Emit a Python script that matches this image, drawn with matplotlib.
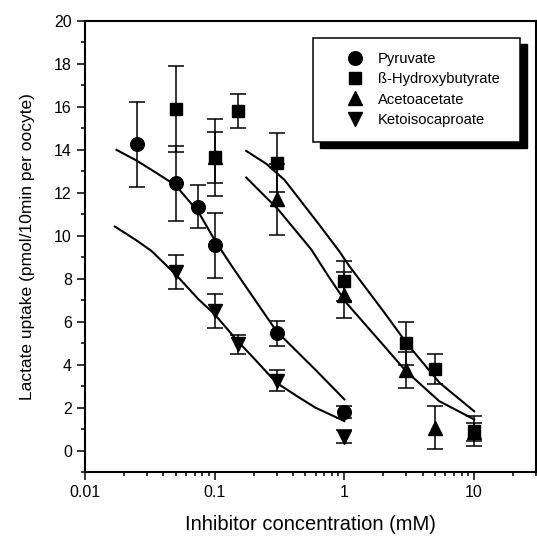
#Libraries
import numpy as np
import matplotlib
matplotlib.use('Agg')
import matplotlib.pyplot as plt
from matplotlib.lines import Line2D
from matplotlib.patches import Rectangle
from matplotlib.ticker import FixedLocator, LogLocator, MultipleLocator, NullFormatter

plt.rcParams['font.family']=['Liberation Sans','DejaVu Sans']

#Measured points (concentration in mM, uptake, error)
pyr_x=[0.025,0.05,0.075,0.1,0.3,1.0]
pyr_y=[14.25,12.45,11.35,9.55,5.45,1.8]
pyr_err=[2.0,1.75,1.0,1.5,0.6,0.28]

hb_x=[0.05,0.1,0.15,0.3,1.0,3.0,5.0,10.0]
hb_y=[15.9,13.65,15.8,13.4,7.9,5.0,3.8,0.9]
hb_err=[2.0,1.8,0.8,1.38,0.93,1.0,0.7,0.7]

aa_x=[0.1,0.3,1.0,3.0,5.0,10.0]
aa_y=[13.65,11.7,7.25,3.75,1.05,0.85]
aa_err=[1.2,1.65,1.07,0.85,1.0,0.42]

kic_x=[0.05,0.1,0.15,0.3,1.0]
kic_y=[8.3,6.5,4.95,3.25,0.65]
kic_err=[0.8,0.8,0.45,0.5,0.3]

#Fitted curves
pyr_fit_x=[0.0175,0.025,0.035,0.05,0.075,0.1,0.135,0.18,0.3,0.6,1.0]
pyr_fit_y=[14.0,13.5,12.95,12.35,11.1,9.8,8.6,7.5,5.55,3.75,2.38]

hb_fit_x=[0.175,0.25,0.345,0.62,0.91,1.09,2.0,3.0,5.4,10.0]
hb_fit_y=[13.95,13.35,12.6,10.62,9.29,8.59,6.48,5.02,3.16,1.83]

aa_fit_x=[0.175,0.307,0.554,0.75,1.03,2.0,2.98,5.38,10.0]
aa_fit_y=[12.71,11.24,9.37,8.13,6.89,4.9,3.7,2.3,1.45]

kic_fit_x=[0.017,0.025,0.0326,0.05,0.075,0.1,0.15,0.2,0.3,0.45,0.6,1.0]
kic_fit_y=[10.43,9.78,9.29,8.2,7.04,6.34,5.1,4.3,3.15,2.46,1.99,1.37]

labels=['Pyruvate','ß-Hydroxybutyrate','Acetoacetate','Ketoisocaproate']
markers=['o','s','^','v']
sizes=[9.8,8.4,10.5,10.5]

#Plot
fig=plt.figure(figsize=(5.37,5.36),dpi=100)
ax=fig.add_axes([85/537,1-472/536,451/537,451/536])

for fx,fy in [(pyr_fit_x,pyr_fit_y),(hb_fit_x,hb_fit_y),(aa_fit_x,aa_fit_y),(kic_fit_x,kic_fit_y)]:
    ax.plot(fx,fy,color='black',lw=1.5,zorder=2)

series=[(pyr_x,pyr_y,pyr_err),(hb_x,hb_y,hb_err),(aa_x,aa_y,aa_err),(kic_x,kic_y,kic_err)]
for (sx,sy,se),m,s in zip(series,markers,sizes):
    ax.errorbar(sx,sy,yerr=se,fmt=m,color='black',ms=s,capsize=6,
                elinewidth=1.1,capthick=1.1,zorder=3)

ax.set_xscale('log')
ax.set_xlim(0.01,30)
ax.set_ylim(-1,20)
ax.xaxis.set_major_locator(FixedLocator([0.01,0.1,1,10]))
ax.set_xticklabels(['0.01','0.1','1','10'])
ax.xaxis.set_minor_locator(LogLocator(base=10,subs=np.arange(2,10)))
ax.xaxis.set_minor_formatter(NullFormatter())
ax.yaxis.set_major_locator(MultipleLocator(2))
ax.yaxis.set_minor_locator(MultipleLocator(1))

for sp in ax.spines.values():
    sp.set_linewidth(1.5)
ax.tick_params(which='both',direction='out',width=1.1,labelsize=11.5)
ax.tick_params(which='major',length=6)
ax.tick_params(which='minor',length=3)

ax.set_xlabel('Inhibitor concentration (mM)',fontsize=14.5,labelpad=11)
ax.set_ylabel('Lactate uptake (pmol/10min per oocyte)',fontsize=12.5,labelpad=13.5)

#Legend with box and offset shadow
x0,x1=(313-85)/451,(520-85)/451
y0,y1=(472-142)/451,(472-38)/451
ax.add_patch(Rectangle((x0+7/451,y0-6/451),x1-x0,y1-y0,transform=ax.transAxes,
                       facecolor='black',edgecolor='black',zorder=6,clip_on=False))
ax.add_patch(Rectangle((x0,y0),x1-x0,y1-y0,transform=ax.transAxes,
                       facecolor='white',edgecolor='black',lw=1.1,zorder=7,clip_on=False))
handles=[Line2D([],[],ls='none',marker=m,ms=s,color='black') for m,s in zip(markers,sizes)]
leg=ax.legend(handles,labels,loc='upper left',bbox_to_anchor=(0.582,0.932),
              frameon=False,fontsize=10.6,handlelength=1.0,handletextpad=1.05,
              labelspacing=0.44,borderpad=0,borderaxespad=0)
leg.set_zorder(8)

plt.savefig('out.png',dpi=100)
